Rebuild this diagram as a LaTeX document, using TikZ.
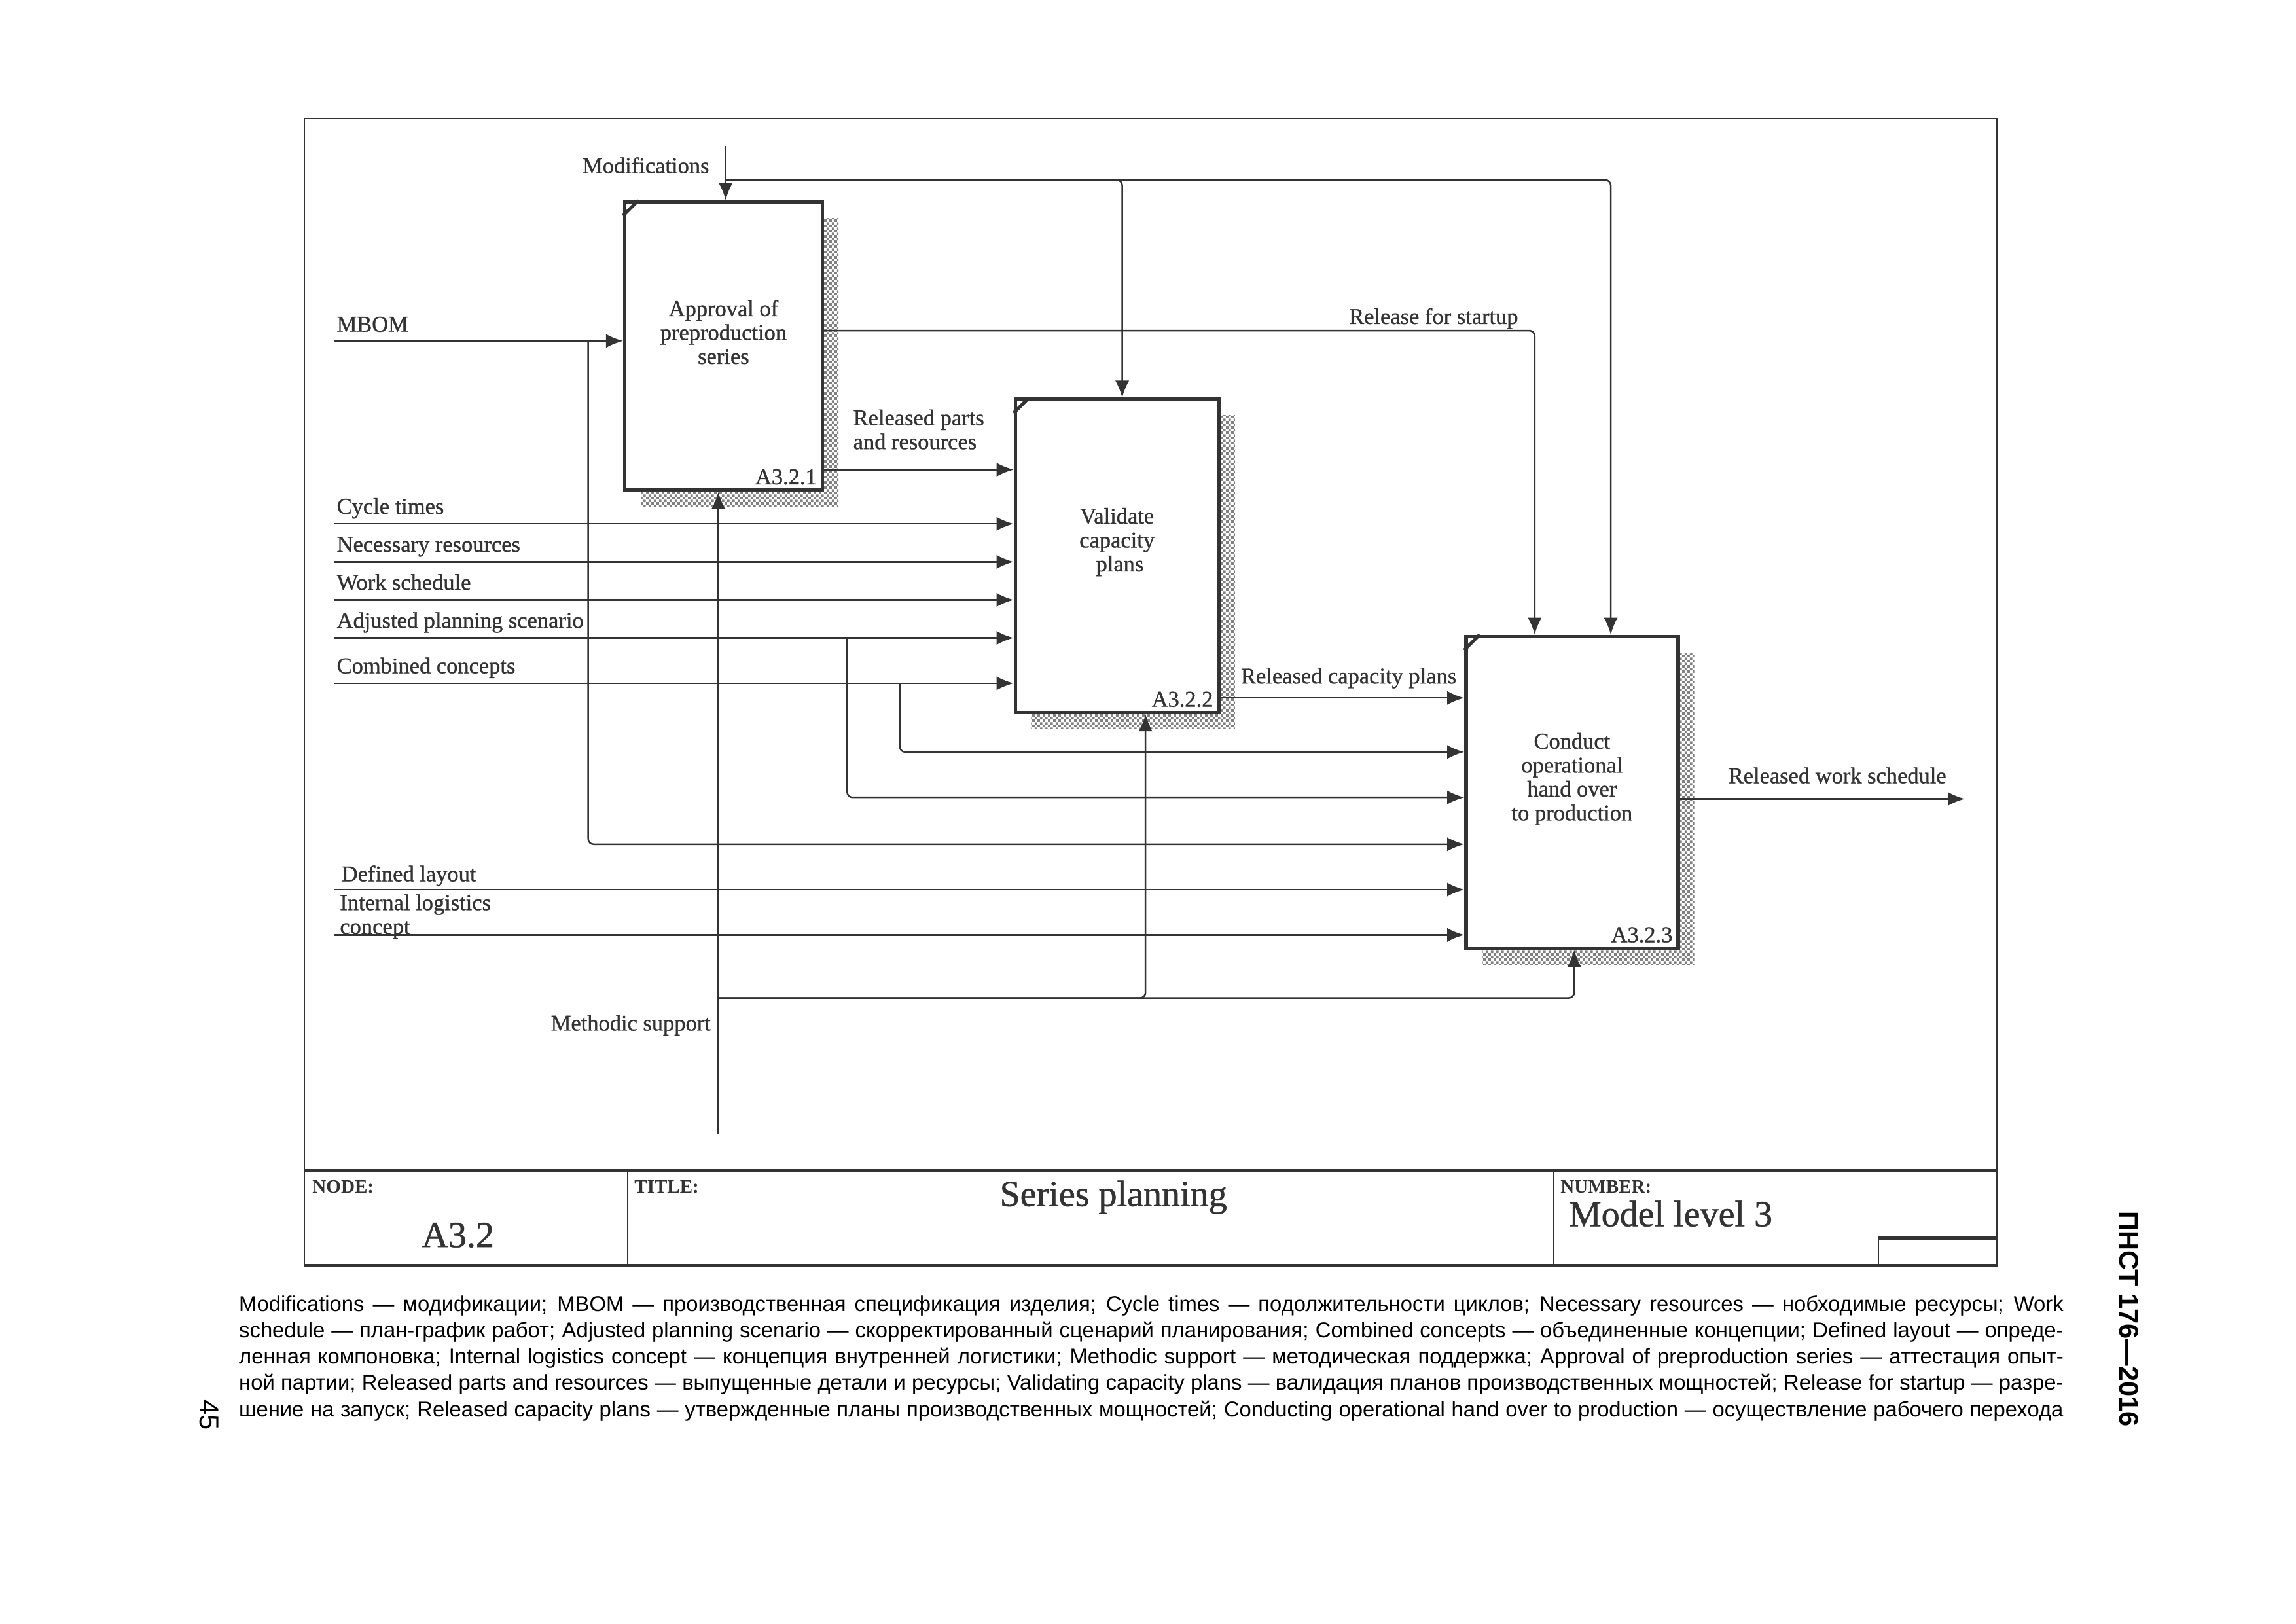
\documentclass[tikz,border=0pt]{standalone}
\usepackage{fontspec}
\setmainfont{Liberation Serif}
\newfontfamily\diagfamily{Liberation Serif}[BoldFont={Liberation Serif}, BoldFeatures={FakeBold=1}]
\newfontfamily\capfont{Liberation Sans}
\usetikzlibrary{arrows.meta,patterns,shadows}

\definecolor{ink}{HTML}{333333}

\pgfdeclarepatternformonly{shadowdots}{\pgfpointorigin}{\pgfqpoint{2pt}{2pt}}{\pgfqpoint{2pt}{2pt}}{
  \pgfpathrectangle{\pgfpointorigin}{\pgfqpoint{1pt}{1pt}}
  \pgfpathrectangle{\pgfqpoint{1pt}{1pt}}{\pgfqpoint{1pt}{1pt}}
  \pgfusepath{fill}
}

\newcommand{\diagfont}{\diagfamily\bfseries\fontsize{8.3}{8.8}\selectfont}
\newcommand{\headfont}{\diagfamily\bfseries\fontsize{13.5}{15}\selectfont}

\tikzset{
  frame/.style={draw=ink, line width=0.6pt},
  heavy/.style={draw=ink, line width=1.2pt},
  fn/.style={draw=ink, fill=white, line width=1.3pt, inner sep=0pt,
    general shadow={shadow xshift=0.21cm, shadow yshift=-0.21cm, draw=none,
      pattern=shadowdots, pattern color=black!50}},
  fntext/.style={font=\diagfont, text=ink, align=center, inner sep=0pt},
  idtext/.style={font=\diagfont, text=ink, inner sep=2.5pt},
  tick/.style={draw=ink, line width=1.2pt},
  lbl/.style={font=\diagfont, text=ink, align=left, inner sep=1pt},
  cell/.style={font=\fontsize{7}{8}\selectfont\bfseries, text=ink, inner sep=1pt},
  flow/.style={draw=ink, line width=0.6pt, rounded corners=2pt,
    -{Latex[length=2.2mm,width=1.8mm]}}
}

\begin{document}
\begin{tikzpicture}
  \useasboundingbox (0,0) rectangle (29.7,21);

  %Frame and title block
  \draw[frame] (3.936,4.630) rectangle (25.833,19.467);
  \draw[heavy] (3.936,5.860) -- (25.833,5.860);
  \draw[heavy] (3.936,4.630) -- (25.833,4.630);
  \draw[frame] (8.119,4.630) -- (8.119,5.860);
  \draw[frame] (20.098,4.630) -- (20.098,5.860);
  \draw[frame] (24.300,4.630) -- (24.300,4.990);
  \draw[heavy] (24.300,4.990) -- (25.833,4.990);
  \node[cell, anchor=base west] (nodehd)  at (4.000,5.570)  {NODE:};
  \node[cell, anchor=base west] (titlehd) at (8.165,5.570)  {TITLE:};
  \node[cell, anchor=base west] (numhd)   at (20.145,5.570) {NUMBER:};
  \node[font=\headfont, text=ink, anchor=base] (nodeno) at (5.924,4.870) {A3.2};
  \node[font=\headfont, text=ink, anchor=base] (title)  at (14.402,5.400) {Series planning};
  \node[font=\headfont, text=ink, anchor=base west, inner sep=1pt] (number) at (20.250,5.140) {Model level 3};

  %Activity boxes
  \node[fn, minimum width=2.555cm, minimum height=3.728cm] (a321) at (9.359,16.524) {};
  \node[fn, minimum width=2.630cm, minimum height=4.050cm] (a322) at (14.449,13.809) {};
  \node[fn, minimum width=2.744cm, minimum height=4.031cm] (a323) at (20.335,10.753) {};
  \foreach \b in {a321,a322,a323}
    \draw[tick] ([yshift=-0.2cm]\b.north west) -- ([xshift=0.2cm]\b.north west);

  \node[fntext] (t321) at ([yshift=0.18cm]a321.center) {Approval of\\preproduction\\series};
  \node[fntext] (t322) at ([yshift=0.18cm]a322.center) {Validate\\capacity\\\ plans};
  \node[fntext] (t323) at ([yshift=0.17cm]a323.center) {Conduct\\operational\\hand over\\to production};
  \node[idtext, anchor=south east] (n321) at (a321.south east) {A3.2.1};
  \node[idtext, anchor=south east] (n322) at (a322.south east) {A3.2.2};
  \node[idtext, anchor=south east] (n323) at (a323.south east) {A3.2.3};

  %Modifications
  \coordinate (modin) at (9.387,19.108);
  \coordinate (modsplit) at (9.387,18.672);
  \node[lbl, anchor=base east] (modlbl) at (9.215,18.760) {Modifications};
  \draw[flow] (modin) -- (modin |- a321.north);
  \draw[flow] (modsplit) -| ([xshift=0.067cm]a322.north);
  \draw[flow] (modsplit) -| ([xshift=0.501cm]a323.north);

  %MBOM
  \coordinate (in-mb) at (4.315,16.590);
  \coordinate (mbsplit) at (7.608,16.590);
  \node[lbl, anchor=base west] (mblbl) at ([yshift=0.12cm]in-mb) {MBOM};
  \draw[flow] (in-mb) -- (in-mb -| a321.west);
  \draw[flow] (mbsplit) |- ([yshift=-0.673cm]a323.west);

  %Inputs of A3.2.2
  \foreach \y/\n/\t in {14.225/ct/Cycle times,13.733/nr/Necessary resources,
      13.241/ws/Work schedule,12.749/ap/Adjusted planning scenario,
      12.162/cc/Combined concepts} {
    \coordinate (in-\n) at (4.315,\y);
    \node[lbl, anchor=base west] (\n lbl) at ([yshift=0.13cm]in-\n) {\t};
    \draw[flow] (in-\n) -- (in-\n -| a322.west);
  }
  \coordinate (apsplit) at (10.958,12.749);
  \coordinate (ccsplit) at (11.639,12.162);
  \draw[flow] (apsplit) |- ([yshift=-0.067cm]a323.west);
  \draw[flow] (ccsplit) |- ([yshift=0.520cm]a323.west);

  %Released parts and resources
  \draw[flow] (a321.east |- 0,14.925) -- (a322.west |- 0,14.925);
  \node[lbl, anchor=base west] (rplbl) at (10.995,15.190) {Released parts\\and resources};

  %Release for startup
  \draw[flow] ([yshift=0.2cm]a321.east) -| ([xshift=-0.483cm]a323.north);
  \node[lbl, anchor=base east] (rslbl) at (19.680,16.810) {Release for startup};

  %Released capacity plans
  \draw[flow] (a322.east |- 0,11.973) -- (a323.west |- 0,11.973);
  \node[lbl, anchor=base west] (rclbl) at (16.010,12.160) {Released capacity plans};

  %Inputs of A3.2.3
  \coordinate (in-dl) at (4.315,9.494);
  \coordinate (in-il) at (4.315,8.907);
  \node[lbl, anchor=base west] (dllbl) at (4.375,9.600) {Defined layout};
  \node[lbl, anchor=base west] (illbl) at (4.355,8.920) {Internal logistics\\concept};
  \draw[flow] (in-dl) -- (in-dl -| a323.west);
  \draw[flow] (in-il) -- (in-il -| a323.west);

  %Released work schedule
  \coordinate (rwsout) at (25.416,10.667);
  \draw[flow] (a323.east |- rwsout) -- (rwsout);
  \node[lbl, anchor=base west] (rwlbl) at (22.315,10.870) {Released work schedule};

  %Methodic support
  \coordinate (msin) at (9.292,6.333);
  \coordinate (mssplit) at (9.292,8.093);
  \node[lbl, anchor=base east] (mslbl) at (9.235,7.670) {Methodic support};
  \draw[flow] (msin) -- (msin |- a321.south);
  \draw[flow] (mssplit) -| ([xshift=0.369cm]a322.south);
  \draw[flow] (mssplit) -| ([xshift=0.028cm]a323.south);

  %Legend below the diagram
  \node[anchor=north west, inner sep=0pt, text width=23.60cm, align=justify,
    font=\capfont\fontsize{7.9}{9.65}\selectfont] (legend) at (3.085,4.246)
    {Modifications — модификации; MBOM — производственная спецификация изделия; Cycle times — подолжительности циклов; Necessary resources — нобходимые ресурсы; Work\linebreak
    schedule — план-график работ; Adjusted planning scenario — скорректированный сценарий планирования; Combined concepts — объединенные концепции; Defined layout — опреде-\linebreak
    ленная компоновка; Internal logistics concept — концепция внутренней логистики; Methodic support — методическая поддержка; Approval of preproduction series — аттестация опыт-\linebreak
    ной партии; Released parts and resources — выпущенные детали и ресурсы; Validating capacity plans — валидация планов производственных мощностей; Release for startup — разре-\linebreak
    шение на запуск; Released capacity plans — утвержденные планы производственных мощностей; Conducting operational hand over to production — осуществление рабочего перехода\hskip 0pt plus -1fil\null};

  %Page header and number
  \node[rotate=-90, font=\capfont\bfseries\fontsize{10}{12}\selectfont] (docid) at (27.536,3.939) {ПНСТ 176—2016};
  \node[rotate=-90, font=\capfont\fontsize{10}{12}\selectfont] (pageno) at (2.706,2.700) {45};

\end{tikzpicture}
\end{document}
